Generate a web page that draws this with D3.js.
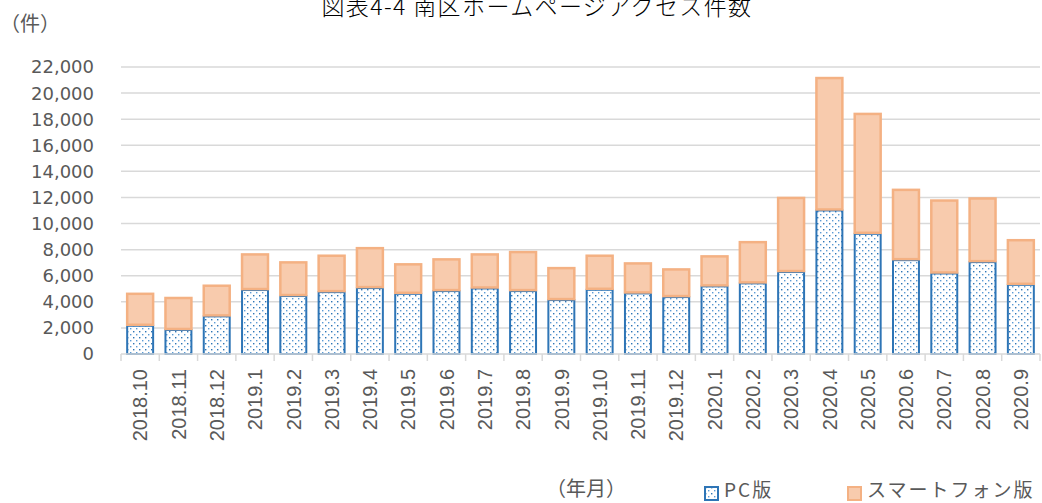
<!DOCTYPE html>
<html>
<head>
<meta charset="utf-8">
<script src="https://cdn.jsdelivr.net/npm/d3@7"></script>
<style>
  body { margin: 0; background: #fff; }
  svg text { fill: #595959; }
  .tick-y { font-family: "DejaVu Sans", sans-serif; font-size: 18px; }
  .tick-x { font-family: "Liberation Sans", Arial, sans-serif; font-size: 20px; }
  .jp { font-family: "Noto Sans CJK JP", sans-serif; }
</style>
</head>
<body>
<svg id="chart" width="1042" height="503"></svg>
<script>
var months = ["2018.10", "2018.11", "2018.12", "2019.1", "2019.2", "2019.3", "2019.4", "2019.5",
    "2019.6", "2019.7", "2019.8", "2019.9", "2019.10", "2019.11", "2019.12", "2020.1",
    "2020.2", "2020.3", "2020.4", "2020.5", "2020.6", "2020.7", "2020.8", "2020.9"];

var pcViews = [2240, 1920, 2960, 4980, 4520, 4820, 5130, 4690, 4900, 5100, 4900, 4210,
    5000, 4720, 4440, 5260, 5490, 6360, 11080, 9290, 7270, 6250, 7120, 5380];

var phoneViews = [2450, 2450, 2350, 2730, 2580, 2790, 3060, 2260, 2430, 2610, 2990, 2450,
    2610, 2300, 2120, 2300, 3160, 5680, 10150, 9190, 5390, 5590, 4880, 3420];

var yTicks = [0, 2000, 4000, 6000, 8000, 10000, 12000, 14000, 16000, 18000, 20000, 22000];

var seriesNames = ["PC版", "スマートフォン版"];

var svg = d3.select("#chart");

var data = months.map(function (m, i) {
    return {month: m, pc: pcViews[i], phone: phoneViews[i]};
});

var x = d3.scaleBand()
    .domain(months)
    .range([121, 1040])
    .paddingInner(0.27)
    .paddingOuter(0.135);

var y = d3.scaleLinear()
    .domain([0, 22000])
    .range([354, 67]);

// dotted fill for the PC series
var defs = svg.append("defs");
var pat = defs.append("pattern")
    .attr("id", "dots")
    .attr("patternUnits", "userSpaceOnUse")
    .attr("width", 6)
    .attr("height", 6);
pat.append("rect").attr("width", 6).attr("height", 6).attr("fill", "#fff");
pat.append("rect").attr("x", 1).attr("y", 1).attr("width", 1.4).attr("height", 1.4).attr("fill", "#2e75b6");
pat.append("rect").attr("x", 4).attr("y", 4).attr("width", 1.4).attr("height", 1.4).attr("fill", "#5b9bd5");

// grid
svg.append("g")
    .selectAll("line")
    .data(yTicks.slice(1))
    .enter().append("line")
    .attr("x1", 121)
    .attr("x2", 1040)
    .attr("y1", function (d) { return y(d); })
    .attr("y2", function (d) { return y(d); })
    .attr("stroke", "#d9d9d9")
    .attr("stroke-width", 1.5);

// y labels
svg.append("g")
    .selectAll("text")
    .data(yTicks)
    .enter().append("text")
    .attr("class", "tick-y")
    .attr("x", 94)
    .attr("y", function (d) { return y(d); })
    .attr("dy", "0.36em")
    .attr("text-anchor", "end")
    .text(function (d) { return d3.format(",")(d); });

// stacked bars
var stack = d3.stack().keys(["pc", "phone"]);
var layers = stack(data);

var fills = ["url(#dots)", "#f8cbad"];
var strokes = ["#2e75b6", "#f4b183"];

var groups = svg.append("g")
    .selectAll("g")
    .data(layers)
    .enter().append("g")
    .attr("fill", function (d, i) { return fills[i]; })
    .attr("stroke", function (d, i) { return strokes[i]; })
    .attr("stroke-width", function (d, i) { return i == 0 ? 2 : 2.5; });

groups.selectAll("rect")
    .data(function (d) { return d; })
    .enter().append("rect")
    .attr("x", function (d) { return x(d.data.month) + 1; })
    .attr("width", x.bandwidth() - 2)
    .attr("y", function (d) { return y(d[1]) + 1; })
    .attr("height", function (d) { return y(d[0]) - y(d[1]) - 1; });

// x axis
var xAxis = svg.append("g");
xAxis.append("line")
    .attr("x1", 121).attr("x2", 1040)
    .attr("y1", 354).attr("y2", 354)
    .attr("stroke", "#d9d9d9").attr("stroke-width", 1.5);

var edges = months.map(function (m) { return x(m) - x.step() * x.paddingInner() / 2; });
edges.push(1040);
xAxis.selectAll(".edge")
    .data(edges)
    .enter().append("line")
    .attr("class", "edge")
    .attr("x1", function (d) { return d; })
    .attr("x2", function (d) { return d; })
    .attr("y1", 354).attr("y2", 361)
    .attr("stroke", "#d9d9d9").attr("stroke-width", 1.5);

xAxis.selectAll("text")
    .data(months)
    .enter().append("text")
    .attr("class", "tick-x")
    .attr("transform", function (d) {
        return "translate(" + (x(d) + x.bandwidth() / 2) + ",369) rotate(-90)";
    })
    .attr("dy", "0.36em")
    .attr("text-anchor", "end")
    .text(function (d) { return d; });

// titles
svg.append("text")
    .attr("class", "jp")
    .attr("x", 537)
    .attr("y", 15)
    .attr("text-anchor", "middle")
    .style("font-size", "23px")
    .style("font-weight", 300)
    .style("letter-spacing", "1.4px")
    .style("fill", "#000")
    .text("図表4-4 南区ホームページアクセス件数");

svg.append("text")
    .attr("class", "jp")
    .attr("x", 0)
    .attr("y", 31)
    .style("font-size", "20px")
    .text("（件）");

svg.append("text")
    .attr("class", "jp")
    .attr("x", 546)
    .attr("y", 496)
    .style("font-size", "20px")
    .text("（年月）");

// legend
var legX = [704, 847];
var leg = svg.append("g")
    .selectAll("g")
    .data(seriesNames)
    .enter().append("g")
    .attr("transform", function (d, i) { return "translate(" + legX[i] + ",486)"; });

leg.append("rect")
    .attr("x", 1).attr("y", 1)
    .attr("width", 13).attr("height", 13)
    .attr("fill", function (d, i) { return fills[i]; })
    .attr("stroke", function (d, i) { return strokes[i]; })
    .attr("stroke-width", 2);

leg.append("text")
    .attr("class", "jp")
    .attr("x", 20)
    .attr("y", 11)
    .style("font-size", "19px")
    .style("letter-spacing", "2px")
    .text(function (d) { return d; });
</script>
</body>
</html>
